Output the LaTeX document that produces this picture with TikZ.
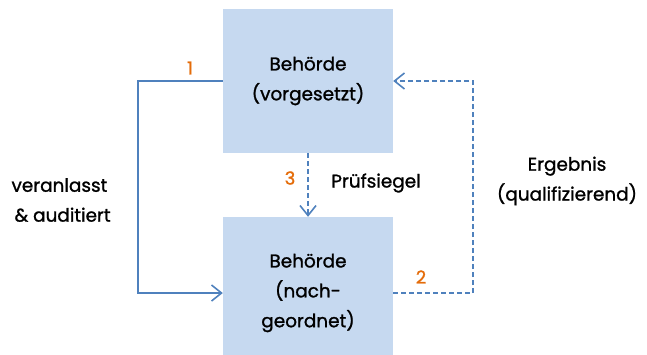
\documentclass[tikz,border=0pt]{standalone}
\usepackage{fontspec}
\setmainfont{Poppins}[FakeBold=1.2]
\usetikzlibrary{arrows.meta}

\definecolor{boxblue}{RGB}{198,217,240}
\definecolor{lineblue}{RGB}{79,129,189}
\definecolor{numorange}{RGB}{228,108,10}

\tikzset{
  amt/.style={fill=boxblue, minimum width=170bp, inner sep=0pt, align=center,
    font=\fontsize{18.5}{30}\selectfont},
  pfeil/.style={draw=lineblue, line width=1.6bp, -{Straight Barb[length=10bp,width=16bp,line width=1.6bp]}},
  pfeilgestr/.style={pfeil, dash pattern=on 5bp off 3bp},
  txt/.style={font=\fontsize{18.5}{30}\selectfont, align=center},
  nummer/.style={text=numorange, font=\fontsize{18}{20}\selectfont},
}

\begin{document}
\begin{tikzpicture}[x=1bp, y=-1bp]
\useasboundingbox (0,0) rectangle (647,354);
\clip (0,0) rectangle (647,354);
% Behoerden
\node[amt, minimum height=144bp] (oben) at (308,81) {Behörde\\(vorgesetzt)};
\node[amt, minimum height=152bp] (unten) at (308,293) {Behörde\\(nach-\\geordnet)};
% Verbindungen
\draw[pfeil] (oben.west) -- ++(-85,0) |- (unten.west);
\draw[pfeilgestr] (oben.south) -- (unten.north);
\draw[pfeilgestr] (unten.east) -- ++(80,0) |- (oben.east);
% Beschriftung
\node[nummer] (n1) at (190,68) {1};
\node[nummer] (n2) at (421,277) {2};
\node[nummer] (n3) at (290,178) {3};
\node[txt] (siegel) at (376,183) {Prüfsiegel};
\node[txt] (ergebnis) at (567,181) {Ergebnis\\(qualifizierend)};
\node[txt, align=left, anchor=west] (auftrag) at (8,200) {veranlasst\\\,\& auditiert};
\end{tikzpicture}
\end{document}
